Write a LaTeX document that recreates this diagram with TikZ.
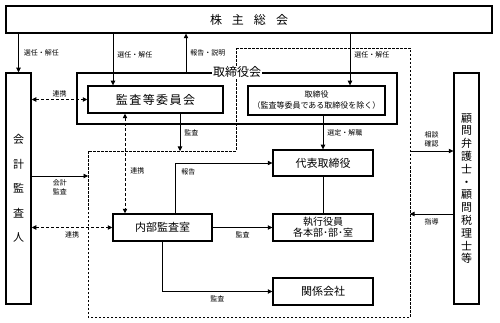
\documentclass[tikz,border=0pt]{standalone}
\usepackage{fontspec}
\setmainfont{Noto Sans CJK JP}
\usetikzlibrary{arrows.meta}

\begin{document}
\begin{tikzpicture}[x=1pt, y=-1pt,
    box/.style={draw, line width=1.5pt, inner sep=0pt, align=center, font=\fontsize{11}{13}\selectfont},
    connector/.style={-{Triangle[length=4.5pt,width=4.5pt]}, line width=0.6pt},
    link/.style={{Triangle[length=4.5pt,width=4.5pt]}-{Triangle[length=4.5pt,width=4.5pt]}, line width=0.8pt, dash pattern=on 3pt off 2pt},
    % region of the dashed frame
    region/.style={line width=0.8pt, dash pattern=on 2.5pt off 1.5pt},
    lbl/.style={font=\fontsize{7}{9}\selectfont, inner sep=1pt, align=center}
]
\useasboundingbox (0,0) rectangle (500,323);

% --- DASHED FRAME ---
\draw[region] (236,48) coordinate (r-nw) -- (410,48) coordinate (r-ne)
    -- (410,317) coordinate (r-se) -- (88,317) coordinate (r-sw)
    -- (88,151) coordinate (r-w) -- (236,151) coordinate (r-n) -- cycle;

% --- BOXES ---
\node[box, minimum width=486pt, minimum height=27pt, font=\fontsize{12}{14}\selectfont] (meeting) at (249,19.5) {株\hspace{10pt}主\hspace{10pt}総\hspace{10pt}会};
\node[box, minimum width=25pt, minimum height=231pt, font=\fontsize{11}{24.5}\selectfont] (auditor) at (18.5,188.5) {会\\計\\監\\査\\人};
\node[box, minimum width=25pt, minimum height=231pt, font=\fontsize{11}{12.8}\selectfont] (advisor) at (466.5,188.5) {顧\\問\\弁\\護\\士\\・\\顧\\問\\税\\理\\士\\等};

\node[box, minimum width=320pt, minimum height=51pt] (board) at (237,98.5) {};
\node[box, minimum width=135pt, minimum height=27pt, font=\fontsize{12}{14}\selectfont\addfontfeature{LetterSpace=12}] (committee) at (155.5,99.5) {監査等委員会};
\node[box, minimum width=137pt, minimum height=29pt, font=\fontsize{8}{11}\selectfont] (directors) at (316.5,100.5) {取締役\\（監査等委員である取締役を除く）};

\node[box, minimum width=100pt, minimum height=26pt] (ceo) at (323,163) {代表取締役};
\node[box, minimum width=100pt, minimum height=27pt, font=\fontsize{10}{11}\selectfont] (officers) at (323,227.5) {執行役員\\各本部･部･室};
\node[box, minimum width=100pt, minimum height=27pt] (affiliates) at (323,291.5) {関係会社};
\node[box, minimum width=99pt, minimum height=27pt] (internal) at (162.5,227.5) {内部監査室};

% board title over the frames
\node[fill=white, inner sep=1pt, font=\fontsize{12}{14}\selectfont] (board-title) at (board.north) {取締役会};

% --- FREE ENDS ---
\coordinate (com-in) at ([xshift=-42.5pt]committee.north);
\coordinate (com-out) at ([xshift=24.5pt]committee.south);
\coordinate (brd-out) at ([xshift=-51pt]board.north);
\coordinate (dir-in) at ([xshift=33.5pt]directors.north);
\coordinate (int-up) at ([xshift=-37.5pt]internal.north);
\coordinate (int-rep) at ([xshift=12.5pt]internal.north);
\coordinate (acc-in) at (88,176);
\coordinate (consult) at (410,151);
\coordinate (guide) at (410,214);

% --- CONNECTORS ---
\draw[connector] (meeting.south -| auditor.north) -- (auditor.north) node[lbl, midway, right=4pt] {選任・解任};
\draw[connector] (meeting.south -| com-in) -- (com-in) node[lbl, pos=0.4, right=3pt] {選任・解任};
\draw[connector] (brd-out) -- (meeting.south -| brd-out) node[lbl, midway, right=3pt] {報告・説明};
\draw[connector] (meeting.south -| dir-in) -- (dir-in) node[lbl, pos=0.4, right=3pt] {選任・解任};

\draw[link] (auditor.east |- committee.west) -- (committee.west) node[lbl, midway, above=1pt] {連携};
\draw[link] (committee.south -| int-up) -- (int-up) node[lbl, pos=0.57, right=4pt] {連携};
\draw[connector] (com-out) -- (com-out |- r-n) node[lbl, midway, right=3pt] {監査};
\draw[connector] (auditor.east |- acc-in) -- (acc-in) node[lbl, midway, below=2pt] {会計\\監査};
\draw[link] (auditor.east |- internal.west) -- (internal.west) node[lbl, midway, below=3pt] {連携};

\draw[connector] (directors.south -| ceo.north) -- (ceo.north) node[lbl, midway, right=3pt] {選定・解職};
\draw[connector] (int-rep) |- (ceo.west) node[lbl, pos=0.41, right=5pt] {報告};
\draw[line width=0.6pt] (ceo.south) -- (officers.north);
\draw[connector] (internal.east) -- (officers.west) node[lbl, midway, below=3pt] {監査};
\draw[connector] (internal.south) |- (affiliates.west) node[lbl, pos=0.75, below=3pt] {監査};

\draw[connector] (consult) -- (advisor.west |- consult) node[lbl, midway, above=3pt] {相談\\確認};
\draw[connector] (advisor.west |- guide) -- (guide) node[lbl, midway, below=3pt] {指導};

\end{tikzpicture}
\end{document}
